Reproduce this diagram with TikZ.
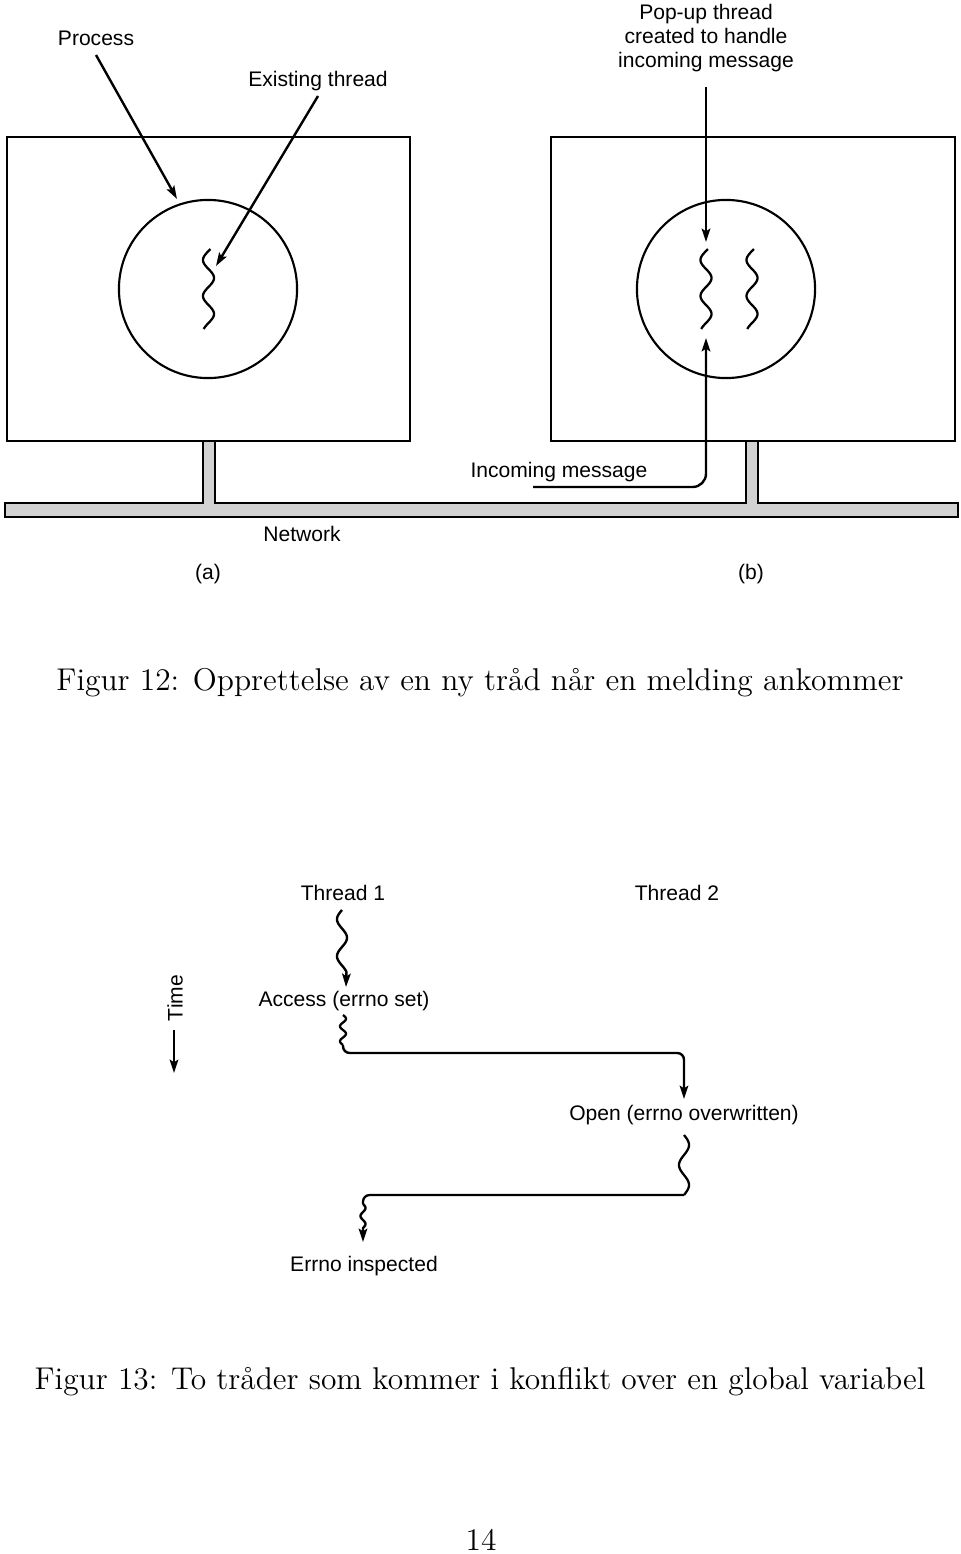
\documentclass[tikz,border=0pt]{standalone}
\usepackage{fontspec}
\usetikzlibrary{arrows.meta}
\newfontfamily\labfont{Liberation Sans}
\begin{document}
\begin{tikzpicture}[x=0.375pt,y=-0.375pt,
  lab/.style={font=\labfont\fontsize{7.9}{9}\selectfont, inner sep=0pt},
  captxt/.style={font=\fontsize{11.8}{14}\selectfont, inner sep=0pt},
  frame/.style={line width=0.8pt},
  wav/.style={line width=0.85pt},
  arr/.style={line width=0.9pt,-{Stealth[length=5pt,width=3.2pt,inset=1pt]}},
]
\useasboundingbox (0,0) rectangle (960,1554);

% ---------- Figure 12 ----------
% network with stubs
\draw[line width=0.7pt, fill=gray!35]
  (5,503) -- (203,503) -- (203,441) -- (215,441) -- (215,503)
  -- (746,503) -- (746,441) -- (758,441) -- (758,503)
  -- (958,503) -- (958,517) -- (5,517) -- cycle;
% machines
\draw[frame, fill=white] (7,137) rectangle (410,441);
\draw[frame, fill=white] (551,137) rectangle (955,441);
% processes
\draw[frame] (208,289) circle[radius=33.4pt];
\draw[frame] (726,289) circle[radius=33.4pt];
% threads
\coordinate (ta1) at (208.5,248);
\coordinate (tb1) at (706,248);
\coordinate (tc1) at (752,248);
\draw[wav, shift={(ta1)}] plot[domain=1:81, samples=80, smooth] ({-5.5*sin((\x-3)*10)}, \x);
\draw[wav, shift={(tb1)}] plot[domain=1:81, samples=80, smooth] ({-5.5*sin((\x-3)*10)}, \x);
\draw[wav, shift={(tc1)}] plot[domain=1:81, samples=80, smooth] ({-5.5*sin((\x-3)*10)}, \x);
% labels
\node[lab, anchor=base] (process) at (96,46) {Process};
\node[lab, anchor=base] (exist) at (318,87) {Existing thread};
\node[lab, anchor=north, align=center] (popup) at (706,4) {Pop-up thread\\created to handle\\incoming message};
\node[lab, anchor=base] (incom) at (559,477) {Incoming message};
\node[lab, anchor=base] (net) at (302,541) {Network};
\node[lab, anchor=base] (la) at (208,579) {(a)};
\node[lab, anchor=base] (lb) at (751,579) {(b)};
% arrows
\coordinate (p1) at (96,55); \coordinate (p2) at (177,199);
\draw[arr] (p1) -- (p2);
\coordinate (e1) at (318,96); \coordinate (e2) at (216,266);
\draw[arr] (e1) -- (e2);
\coordinate (u1) at (706,87); \coordinate (u2) at (706,242);
\draw[arr] (u1) -- (u2);
\coordinate (m1) at (533,487); \coordinate (m2) at (706,487); \coordinate (m3) at (706,338);
\draw[arr, rounded corners=5pt] (m1) -- (m2) -- (m3);
\node[captxt, anchor=base] (cap12) at (480,690) {Figur 12: Opprettelse av en ny tråd når en melding ankommer};

% ---------- Figure 13 ----------
\node[lab, anchor=base] (th1) at (343,900) {Thread 1};
\node[lab, anchor=base] (th2) at (677,900) {Thread 2};
\node[lab, rotate=90] (time) at (175,998) {Time};
\coordinate (t1) at (174,1030); \coordinate (t2) at (174,1073);
\draw[arr] (t1) -- (t2);
\node[lab, anchor=base] (acc) at (344,1006) {Access (errno set)};
\node[lab, anchor=base] (open) at (684,1120) {Open (errno overwritten)};
\node[lab, anchor=base] (insp) at (364,1271) {Errno inspected};

% Thread 1 -> Access
\coordinate (s1a) at (342,910); \coordinate (s1b) at (346,987);
\draw[arr, shift={(s1a)}] plot[domain=0:62, samples=50, smooth] ({-5*sin(\x*9.73)}, \x) -- (s1b);
% Access -> Open
\coordinate (s2a) at (343,1015); \coordinate (s2b) at (343,1045);
\draw[wav, shift={(s2a)}] plot[domain=0:30, samples=40, smooth] ({3*sin(\x*24)}, \x);
\coordinate (c1) at (343,1053); \coordinate (c2) at (684,1053); \coordinate (c3) at (684,1099);
\draw[arr, rounded corners=2.5pt] (s2b) -- (c1) -- (c2) -- (c3);
% Open -> Errno inspected
\coordinate (s3a) at (684,1135); \coordinate (s3b) at (684,1195);
\draw[wav, shift={(s3a)}] plot[domain=0:60, samples=50, smooth] ({5*sin(\x*9)}, \x);
\coordinate (c5) at (363,1195); \coordinate (s4a) at (363,1204);
\draw[wav, rounded corners=2.5pt] (s3b) -- (c5) -- (s4a);
\coordinate (s4b) at (363,1242);
\draw[arr, shift={(s4a)}] plot[domain=0:24, samples=30, smooth] ({2.5*sin(\x*22.5)}, \x) -- (s4b);

\node[captxt, anchor=base] (cap13) at (480,1389) {Figur 13: To tråder som kommer i konflikt over en global variabel};
\node[captxt, anchor=base] (page) at (481,1550) {14};
\end{tikzpicture}
\end{document}
